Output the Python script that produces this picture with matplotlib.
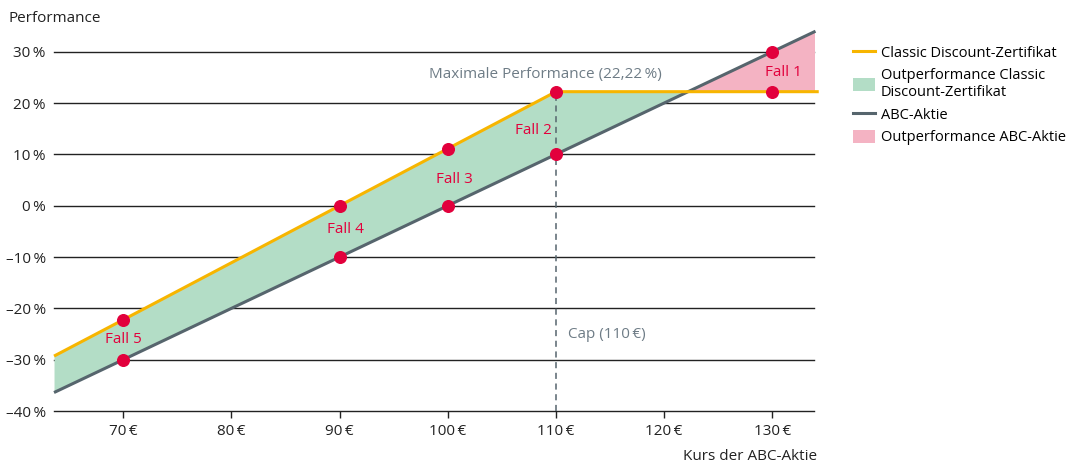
import matplotlib
matplotlib.use("Agg")
import matplotlib.pyplot as plt
from matplotlib.lines import Line2D
from matplotlib.patches import Patch
import numpy as np

plt.rcParams['font.family'] = ['Open Sans', 'DejaVu Sans']

# --- DATA ---
kurs = [63.6, 70, 80, 90, 100, 110, 120, 122.22, 130, 134]
aktie_perf = [-36.4, -30.0, -20.0, -10.0, 0.0, 10.0, 20.0, 22.22, 30.0, 34.0]
discount_perf = [-29.3, -22.22, -11.11, 0.0, 11.11, 22.22, 22.22, 22.22, 22.22, 22.22]

fall_x = [130, 130, 110, 110, 100, 100, 90, 90, 70, 70]
fall_y = [30.0, 22.22, 22.22, 10.0, 11.11, 0.0, 0.0, -10.0, -22.22, -30.0]
fall_labels = ["Fall 1", "Fall 2", "Fall 3", "Fall 4", "Fall 5"]
fall_label_pos = [(131.0, 26.0), (107.9, 14.6), (100.6, 5.2), (90.5, -4.7), (70.0, -26.0)]

x_ticks = [70, 80, 90, 100, 110, 120, 130]
y_ticks = [-40, -30, -20, -10, 0, 10, 20, 30]
cap = 110
max_perf = 22.22

# --- COLOURS ---
YELLOW = '#F7B500'
GREEN = '#B3DDC6'
SLATE = '#56656D'
PINK = '#F4B3C3'
RED = '#E2003C'
GREY_TXT = '#6E7C86'
FS = 11

fig = plt.figure(figsize=(10.74, 4.66), dpi=100)
ax = fig.add_axes([0.0503, 0.118, 0.708, 0.815])

x = np.array(kurs)
a = np.array(aktie_perf)
d = np.array(discount_perf)

# gridlines
for yv in y_ticks:
    ax.axhline(yv, color='#222222', linewidth=1.0, zorder=1, clip_on=False)

ax.fill_between(x, a, d, where=d >= a, interpolate=True, color=GREEN, linewidth=0, zorder=2)
ax.fill_between(x, a, d, where=a >= d, interpolate=True, color=PINK, linewidth=0, zorder=2)

ax.plot([cap, cap], [-40, max_perf], color=SLATE, linestyle=(0, (4, 3)), linewidth=1.1, zorder=3)

ax.plot(x, a, color=SLATE, linewidth=2.2, zorder=4, clip_on=False, solid_capstyle='butt')
ax.plot(list(x) + [134.3], list(d) + [22.22], color=YELLOW, linewidth=2.2, zorder=4,
        clip_on=False, solid_capstyle='butt')

ax.scatter(fall_x, fall_y, s=70, color=RED, zorder=5, clip_on=False)

for lab, (lx, ly) in zip(fall_labels, fall_label_pos):
    ax.text(lx, ly, lab, color=RED, fontsize=FS, ha='center', va='center', zorder=6)

ax.text(98.3, 25.6, "Maximale Performance (22,22\u2009%)", color=GREY_TXT, fontsize=FS,
        ha='left', va='center')
ax.text(111.1, -25.0, "Cap (110\u2009€)", color=GREY_TXT, fontsize=FS, ha='left', va='center')

ax.set_xlim(63.6, 133.9)
ax.set_ylim(-40, 34)
ax.set_xticks(x_ticks)
ax.set_xticklabels([f"{v}\u2009€" for v in x_ticks], fontsize=FS, color='#222222')
ax.set_yticks(y_ticks)
ax.set_yticklabels([(f"{v}\u2009%" if v >= 0 else f"\u2013{abs(v)}\u2009%") for v in y_ticks],
                   fontsize=FS, color='#222222')
ax.tick_params(axis='y', length=0, pad=6)
ax.tick_params(axis='x', length=5, width=1, color='#222222', pad=4)
for s in ['top', 'right', 'left', 'bottom']:
    ax.spines[s].set_visible(False)
ax.set_facecolor('none')

fig.text(8 / 1074, 1 - 18 / 466, "Performance", fontsize=FS, color='#222222', va='center', ha='left')
fig.text(817 / 1074, 1 - 457 / 466, "Kurs der ABC-Aktie", fontsize=FS, color='#222222',
         va='center', ha='right')

handles = [
    Line2D([0], [0], color=YELLOW, linewidth=2.2),
    Patch(facecolor=GREEN, edgecolor='none'),
    Line2D([0], [0], color=SLATE, linewidth=2.2),
    Patch(facecolor=PINK, edgecolor='none'),
]
labels = ["Classic Discount-Zertifikat", "Outperformance Classic\nDiscount-Zertifikat",
          "ABC-Aktie", "Outperformance ABC-Aktie"]
fig.legend(handles, labels, loc='upper left', bbox_to_anchor=(846 / 1074, 1 - 38 / 466),
           frameon=False, fontsize=10.5, handlelength=1.5, handleheight=1.0,
           handletextpad=0.4, labelspacing=0.48, borderpad=0)

fig.savefig("out.png", dpi=100)
